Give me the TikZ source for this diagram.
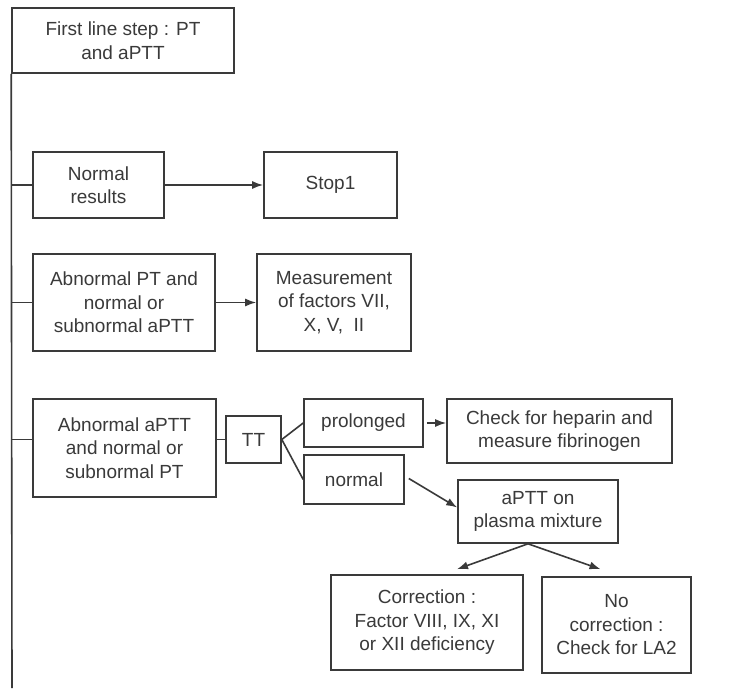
\documentclass[tikz,border=0pt]{standalone}
\usepackage{fontspec}
\setmainfont{Liberation Sans}
\usetikzlibrary{arrows.meta}
\definecolor{ink}{HTML}{3A3A3A}
\begin{document}
\begin{tikzpicture}[x=1pt,y=-1pt,
  box/.style={draw=ink, line width=1.6pt, text=ink, align=center, inner sep=2pt,
    font=\fontsize{19}{23.5}\selectfont},
  conn/.style={draw=ink, line width=1.6pt},
  arr/.style={conn, -{Latex[length=11pt,width=8pt]}}]
\useasboundingbox[fill=white] (0,0) rectangle (742,690);
\node[box, minimum width=222pt, minimum height=65pt] (first) at (123,40.5) {First line step : PT\\and aPTT};
\node[box, minimum width=131pt, minimum height=66pt] (normal) at (98.5,185) {Normal\\results};
\node[box, minimum width=133pt, minimum height=66pt] (stop) at (330.5,185) {Stop1};
\node[box, minimum width=182pt, minimum height=97pt] (abpt) at (124,302.5) {Abnormal PT and\\normal or\\subnormal aPTT};
\node[box, minimum width=154pt, minimum height=97pt] (meas) at (334,302.5) {Measurement\\of factors VII,\\X, V,\ \ II};
\node[box, minimum width=183pt, minimum height=98pt] (abaptt) at (124.5,448) {Abnormal aPTT\\and normal or\\subnormal PT};
\node[box, minimum width=55pt, minimum height=47pt] (tt) at (253.5,439.5) {TT};
\node[box, minimum width=119pt, minimum height=48pt] (prol) at (363.5,423) {prolonged};
\node[box, minimum width=100pt, minimum height=49pt] (norm) at (354,479.5) {normal};
\node[box, minimum width=225pt, minimum height=64pt] (check) at (559.5,431) {Check for heparin and\\measure fibrinogen};
\node[box, minimum width=160pt, minimum height=63pt] (mix) at (538,511.5) {aPTT on\\plasma mixture};
\node[box, minimum width=192pt, minimum height=95pt] (corr) at (427,622.5) {Correction :\\Factor VIII, IX, XI\\or XII deficiency};
\node[box, minimum width=149pt, minimum height=96pt] (nocorr) at (616.5,625) {No\\correction :\\Check for LA2};
\coordinate (trunkend) at (12,688);
\draw[conn] (first.south west) -- (trunkend);
\draw[conn] (first.south west |- normal.west) -- (normal.west);
\draw[conn] (first.south west |- abpt.west) -- (abpt.west);
\draw[conn] (first.south west |- tt.west) -- (abaptt.west |- tt.west);
\draw[arr] (normal.east) -- (stop.west);
\draw[arr] (abpt.east) -- (meas.west);
\draw[conn] (abaptt.east |- tt.west) -- (tt.west);
\draw[conn] (tt.east) -- (prol.west);
\draw[conn] (tt.east) -- (norm.west);
\draw[arr] ([xshift=3pt]prol.east) -- (prol.east -| check.west);
\draw[arr] ([xshift=4pt,yshift=1pt]norm.east) -- ([yshift=4pt]mix.west);
\draw[arr] ([xshift=-10pt]mix.south) -- ([xshift=30pt,yshift=5pt]corr.north);
\draw[arr] ([xshift=-10pt]mix.south) -- ([xshift=-16pt,yshift=7pt]nocorr.north);
\end{tikzpicture}
\end{document}
